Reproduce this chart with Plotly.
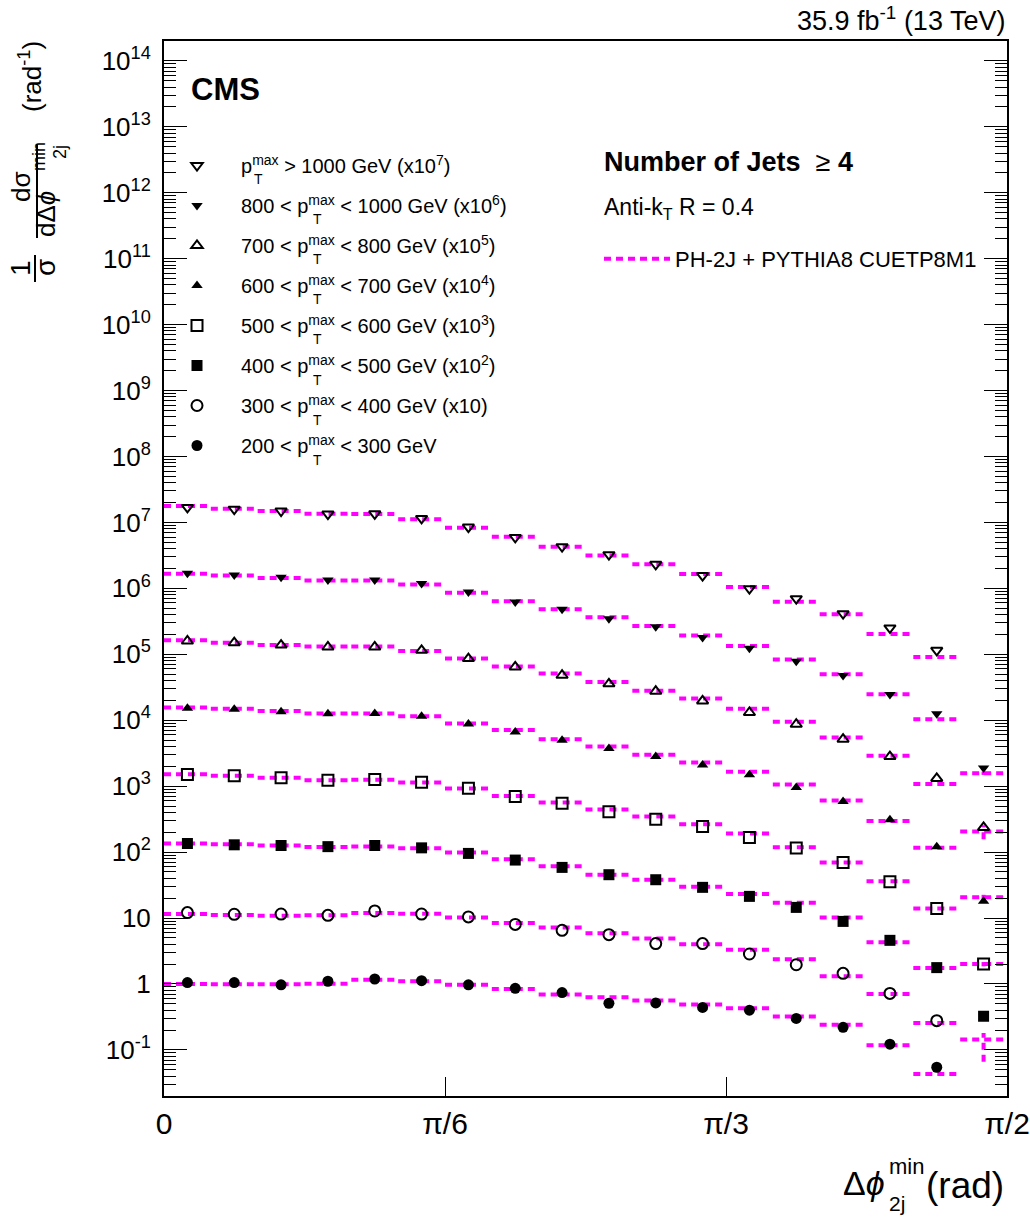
import math
import plotly.graph_objects as go

FONT = "Liberation Sans, Arial, Helvetica, sans-serif"
MAGENTA = "#ff00ff"

# ---------------- data (normalised cross sections, unscaled) ----------------
# 18 bins of width 5 degrees in delta phi_2j^min between 0 and pi/2
bin_edges_deg = list(range(0, 95, 5))

series_labels = [
    "p<sup>max</sup> > 1000 GeV (x10<sup>7</sup>)",
    "800 < p<sup>max</sup> < 1000 GeV (x10<sup>6</sup>)",
    "700 < p<sup>max</sup> < 800 GeV (x10<sup>5</sup>)",
    "600 < p<sup>max</sup> < 700 GeV (x10<sup>4</sup>)",
    "500 < p<sup>max</sup> < 600 GeV (x10<sup>3</sup>)",
    "400 < p<sup>max</sup> < 500 GeV (x10<sup>2</sup>)",
    "300 < p<sup>max</sup> < 400 GeV (x10)",
    "200 < p<sup>max</sup> < 300 GeV",
]
scale_factors = [1e7, 1e6, 1e5, 1e4, 1e3, 1e2, 1e1, 1.0]
marker_symbols = ["triangle-down-open", "triangle-down", "triangle-up-open", "triangle-up",
                  "square-open", "square", "circle-open", "circle"]
marker_sizes = [10, 10, 10, 10, 11, 11, 11, 11]

data_1000 = [1.69, 1.59, 1.49, 1.34, 1.35, 1.15, 0.85, 0.593, 0.428, 0.324, 0.231, 0.156,
             0.0989, 0.0697, 0.0413, 0.0251, 0.0115, None]
data_800 = [1.69, 1.59, 1.47, 1.34, 1.34, 1.18, 0.88, 0.621, 0.481, 0.347, 0.262, 0.179,
            0.123, 0.0783, 0.0475, 0.0245, 0.0125, 0.00188]
data_700 = [1.59, 1.50, 1.38, 1.29, 1.29, 1.15, 0.86, 0.643, 0.481, 0.356, 0.275, 0.196,
            0.131, 0.0869, 0.0515, 0.0281, 0.0131, 0.00237]
data_600 = [1.52, 1.47, 1.35, 1.25, 1.26, 1.15, 0.88, 0.665, 0.498, 0.372, 0.281, 0.210,
            0.149, 0.0955, 0.0586, 0.0309, 0.0121, 0.0018]
data_500 = [1.50, 1.44, 1.34, 1.23, 1.26, 1.15, 0.93, 0.70, 0.552, 0.408, 0.316, 0.245,
            0.167, 0.115, 0.0697, 0.0355, 0.0140, 0.00201]
data_400 = [1.35, 1.29, 1.26, 1.21, 1.26, 1.16, 0.955, 0.757, 0.586, 0.454, 0.381, 0.292,
            0.213, 0.145, 0.0889, 0.0459, 0.0177, 0.00324]
data_300 = [1.21, 1.14, 1.15, 1.10, 1.28, 1.15, 1.04, 0.80, 0.65, 0.56, 0.41, 0.41,
            0.285, 0.196, 0.145, 0.072, 0.0278, None]
data_200 = [1.05, 1.05, 0.97, 1.10, 1.19, 1.12, 0.97, 0.86, 0.74, 0.51, 0.515, 0.44,
            0.40, 0.30, 0.22, 0.122, 0.0546, None]

mc_1000 = [1.77, 1.61, 1.49, 1.35, 1.34, 1.12, 0.83, 0.607, 0.428, 0.316, 0.231, 0.165,
           0.105, 0.0628, 0.0404, 0.0203, 0.00912, None]
mc_800 = [1.67, 1.56, 1.44, 1.32, 1.32, 1.14, 0.86, 0.635, 0.481, 0.364, 0.269, 0.192,
          0.134, 0.0830, 0.0498, 0.0248, 0.01035, 0.00157]
mc_700 = [1.63, 1.50, 1.38, 1.31, 1.31, 1.12, 0.86, 0.65, 0.509, 0.381, 0.281, 0.213,
          0.149, 0.0944, 0.0546, 0.0288, 0.0108, 0.00206]
mc_600 = [1.56, 1.49, 1.38, 1.26, 1.26, 1.15, 0.89, 0.71, 0.515, 0.399, 0.299, 0.229,
          0.165, 0.106, 0.0607, 0.0295, 0.0116, 0.00206]
mc_500 = [1.52, 1.44, 1.34, 1.23, 1.25, 1.14, 0.92, 0.71, 0.566, 0.443, 0.347, 0.265,
          0.192, 0.118, 0.0697, 0.036, 0.0140, 0.00201]
mc_400 = [1.35, 1.31, 1.26, 1.19, 1.22, 1.14, 0.99, 0.78, 0.61, 0.454, 0.381, 0.299,
          0.231, 0.171, 0.102, 0.0428, 0.0175, 0.00144]
mc_300 = [1.15, 1.11, 1.08, 1.10, 1.19, 1.16, 1.02, 0.84, 0.72, 0.59, 0.49, 0.40,
          0.33, 0.237, 0.131, 0.0705, 0.0256, None]
mc_200 = [1.00, 0.99, 0.99, 1.01, 1.16, 1.10, 0.97, 0.84, 0.69, 0.63, 0.56, 0.49,
          0.43, 0.32, 0.24, 0.118, 0.043, None]

# visible MC uncertainty in the last bin (lower, upper), unscaled
mc_last_lo = [None, 0.00148, 0.00157, 0.00190, 0.00185, 0.00066, None, None]
mc_last_hi = [None, 0.00166, 0.00255, 0.00225, 0.00215, 0.00181, None, None]

data_series = [data_1000, data_800, data_700, data_600, data_500, data_400, data_300, data_200]
mc_series = [mc_1000, mc_800, mc_700, mc_600, mc_500, mc_400, mc_300, mc_200]

ytick_vals = [10.0 ** k for k in range(-1, 15)]
ytick_text = ["10<sup>-1</sup>", "1", "10"] + ["10<sup>%d</sup>" % k for k in range(2, 15)]
xtick_vals = [0, math.pi / 6, math.pi / 3, math.pi / 2]
xtick_text = ["0", "π/6", "π/3", "π/2"]

# ---------------- derived bins ----------------
edges = [math.radians(d) for d in bin_edges_deg]
centers = [(edges[i] + edges[i + 1]) / 2 for i in range(len(edges) - 1)]

fig = go.Figure()

# MC predictions: dashed horizontal segment over each bin
for k, (mc, sf) in enumerate(zip(mc_series, scale_factors)):
    xs, ys = [], []
    for i, v in enumerate(mc):
        if v is None:
            continue
        xs += [edges[i], edges[i + 1], None]
        ys += [v * sf, v * sf, None]
    if mc_last_lo[k] is not None and mc[-1] is not None:
        xs += [centers[-1], centers[-1], None]
        ys += [mc_last_lo[k] * sf, mc_last_hi[k] * sf, None]
    fig.add_trace(go.Scatter(
        x=xs, y=ys, mode="lines",
        line=dict(color=MAGENTA, width=4, dash="7px,5px"),
        name="PH-2J + PYTHIA8 CUETP8M1",
        showlegend=(k == 0), legend="legend2", hoverinfo="skip",
    ))

# data points
for k, (d, sf) in enumerate(zip(data_series, scale_factors)):
    xs = [c for c, v in zip(centers, d) if v is not None]
    ys = [v * sf for v in d if v is not None]
    open_sym = marker_symbols[k].endswith("open")
    fig.add_trace(go.Scatter(
        x=xs, y=ys, mode="markers",
        marker=dict(symbol=marker_symbols[k], size=marker_sizes[k], color="black",
                    line=dict(color="black", width=2 if open_sym else 0)),
        name=series_labels[k], legendgroup="g%d" % k, legend="legend",
    ))

# ---------------- layout helpers (pixel -> paper) ----------------
L, R, T, B = 164, 1007, 41, 1096
def px(x):
    return (x - L) / (R - L)
def py(y):
    return (B - y) / (B - T)

ann = []
def text(s, x, y, size, xanchor="center", yanchor="middle", angle=0):
    ann.append(dict(text=s, x=px(x), y=py(y), xref="paper", yref="paper", showarrow=False,
                    xanchor=xanchor, yanchor=yanchor, textangle=angle,
                    font=dict(family=FONT, size=size, color="black")))

# header and labels
text("35.9 fb<sup>-1</sup> (13 TeV)", 1007, 19, 27, xanchor="right")
text("<b>CMS</b>", 189, 89, 31, xanchor="left")
text("<b>Number of Jets</b>&nbsp;&nbsp;≥ <b>4</b>", 602, 162, 27, xanchor="left")
text("Anti-k<sub>T</sub> R = 0.4", 602, 209, 23, xanchor="left")

# subscript T under "max" in the legend entries
for i in range(8):
    text("T", 252 if i == 0 else 311, 179 + 40.1 * i, 14, xanchor="left")

# y-axis title (rotated fractions)
text("1", 20, 268, 28, angle=-90)
text("σ", 45, 268, 28, angle=-90)
text("dσ", 21, 187, 26, angle=-90)
text("dΔ<i>ϕ</i>", 46, 214, 26, angle=-90)
text("min", 39, 157, 18, angle=-90)
text("2j", 60, 152, 18, angle=-90)
text("(rad<sup>-1</sup>)", 30, 77, 26, angle=-90)

# x-axis title
text("Δ<i>ϕ</i>", 887, 1183, 34, xanchor="right")
text("min", 887, 1166, 22, xanchor="left")
text("2j", 887, 1203, 21, xanchor="left")
text("(rad)", 924, 1185, 37, xanchor="left")

shapes = [
    dict(type="line", xref="paper", yref="paper", x0=px(35), x1=px(35), y0=py(255), y1=py(282),
         line=dict(color="black", width=2)),
    dict(type="line", xref="paper", yref="paper", x0=px(37), x1=px(37), y0=py(145), y1=py(238),
         line=dict(color="black", width=2)),
]

minor_vals = [m * 10.0 ** e for e in range(-2, 15) for m in range(2, 10)]

fig.update_layout(
    width=1030, height=1220, autosize=False,
    margin=dict(l=L, r=1030 - R, t=T, b=1220 - B, pad=0, autoexpand=False),
    paper_bgcolor="white", plot_bgcolor="white",
    font=dict(family=FONT, color="black"),
    annotations=ann, shapes=shapes,
    xaxis=dict(range=[0, math.pi / 2], tickmode="array", tickvals=xtick_vals, ticktext=xtick_text,
               ticks="inside", ticklen=19, tickwidth=1, tickcolor="black",
               showline=True, linecolor="black", linewidth=2, mirror=True, automargin=False,
               showgrid=False, zeroline=False, tickfont=dict(size=30, family=FONT),
               ticklabelstandoff=0),
    yaxis=dict(type="log", range=[math.log10(0.02), math.log10(2e14)],
               tickmode="array", tickvals=ytick_vals, ticktext=ytick_text,
               ticks="inside", ticklen=23, tickwidth=1, tickcolor="black",
               minor=dict(tickmode="array", tickvals=minor_vals, ticks="inside", ticklen=12,
                          tickwidth=1, tickcolor="black", showgrid=False),
               showline=True, linecolor="black", linewidth=2, mirror="allticks", automargin=False,
               showgrid=False, zeroline=False, tickfont=dict(size=26, family=FONT),
               ticklabelstandoff=6),
    legend=dict(x=px(153), y=py(146), xanchor="left", yanchor="top",
                bgcolor="rgba(0,0,0,0)", font=dict(size=20, family=FONT, color="black"),
                tracegroupgap=11, traceorder="grouped", itemwidth=78),
    legend2=dict(x=px(599), y=py(259), xanchor="left", yanchor="middle",
                 bgcolor="rgba(0,0,0,0)", font=dict(size=22, family=FONT, color="black"),
                 itemwidth=66),
    showlegend=True,
)

fig.write_html("out.html",
               config={"displayModeBar": False, "responsive": False},
               post_script="document.body.style.margin='0px';document.body.style.overflow='hidden';")
